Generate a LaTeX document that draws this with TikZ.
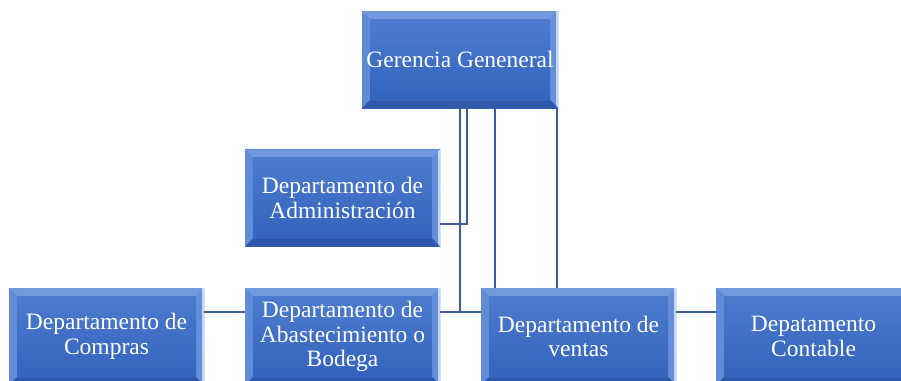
\documentclass[tikz,border=0pt]{standalone}
\usepackage{fontspec}
\setmainfont{Liberation Serif}
\usepackage{tikz}
\usetikzlibrary{positioning,calc}

\definecolor{boxtop}{HTML}{4C7BCE}
\definecolor{boxbot}{HTML}{3363BC}
\definecolor{bevlight}{HTML}{7099DE}
\definecolor{bevdark}{HTML}{3058AA}
\definecolor{bevedge}{HTML}{C2D6F6}
\definecolor{linkcol}{HTML}{3D5C9C}

\tikzset{
    dept/.style={rectangle, minimum width=195pt, minimum height=97pt, inner sep=1pt,
        align=center, text=white, font=\fontsize{23.5}{24.5}\selectfont,
        top color=boxtop, bottom color=boxbot,
        path picture={
            \fill[bevlight] (path picture bounding box.north west) -- (path picture bounding box.north east)
                -- ([shift={(-8pt,-8pt)}]path picture bounding box.north east)
                -- ([shift={(8pt,-8pt)}]path picture bounding box.north west) -- cycle;
            \fill[bevlight!55!boxtop] (path picture bounding box.north west) -- (path picture bounding box.south west)
                -- ([shift={(8pt,8pt)}]path picture bounding box.south west)
                -- ([shift={(8pt,-8pt)}]path picture bounding box.north west) -- cycle;
            \fill[bevlight!70!boxtop] (path picture bounding box.north east) -- (path picture bounding box.south east)
                -- ([shift={(-8pt,8pt)}]path picture bounding box.south east)
                -- ([shift={(-8pt,-8pt)}]path picture bounding box.north east) -- cycle;
            \fill[bevedge] ([xshift=-2pt]path picture bounding box.north east) rectangle (path picture bounding box.south east);
            \fill[bevdark] (path picture bounding box.south west) -- (path picture bounding box.south east)
                -- ([shift={(-8pt,8pt)}]path picture bounding box.south east)
                -- ([shift={(8pt,8pt)}]path picture bounding box.south west) -- cycle;
            \shade[top color=boxtop, bottom color=boxbot]
                ([shift={(8pt,-8pt)}]path picture bounding box.north west)
                rectangle ([shift={(-8pt,8pt)}]path picture bounding box.south east);
        }},
    link/.style={linkcol, line width=2.2pt}
}

\begin{document}
\begin{tikzpicture}[x=1pt, y=-1pt]

    \useasboundingbox (0,0) rectangle (901,380);

    % boxes
    \node[dept, minimum width=196pt] (gerencia) at (460,59.5) {Gerencia Geneneral};
    \node[dept] (admin) at (342.5,198) {Departamento de\\Administración};
    \node[dept] (compras) at (106.5,336.5) {Departamento de\\Compras};
    \node[dept] (bodega) at (342.5,336.5) {Departamento de\\Abastecimiento o\\Bodega};
    \node[dept] (ventas) at (578.5,336.5) {Departamento de\\ventas};
    \node[dept] (contable) at (813.5,336.5) {Depatamento\\Contable};

    % connector points
    \coordinate (ja) at (467,224);
    \coordinate (jb) at (460,312);
    \coordinate (jc) at (495,0);
    \coordinate (jd) at (557,0);

    \draw[link] (gerencia.south -| ja) -- (ja) -- (admin.east |- ja);
    \draw[link] (gerencia.south -| jb) -- (jb);
    \draw[link] (gerencia.south -| jc) -- (ventas.north -| jc);
    \draw[link] (gerencia.south -| jd) -- (ventas.north -| jd);

    \draw[link] (compras.east |- jb) -- (bodega.west |- jb);
    \draw[link] (bodega.east |- jb) -- (ventas.west |- jb);
    \draw[link] (ventas.east |- jb) -- (contable.west |- jb);

\end{tikzpicture}
\end{document}
